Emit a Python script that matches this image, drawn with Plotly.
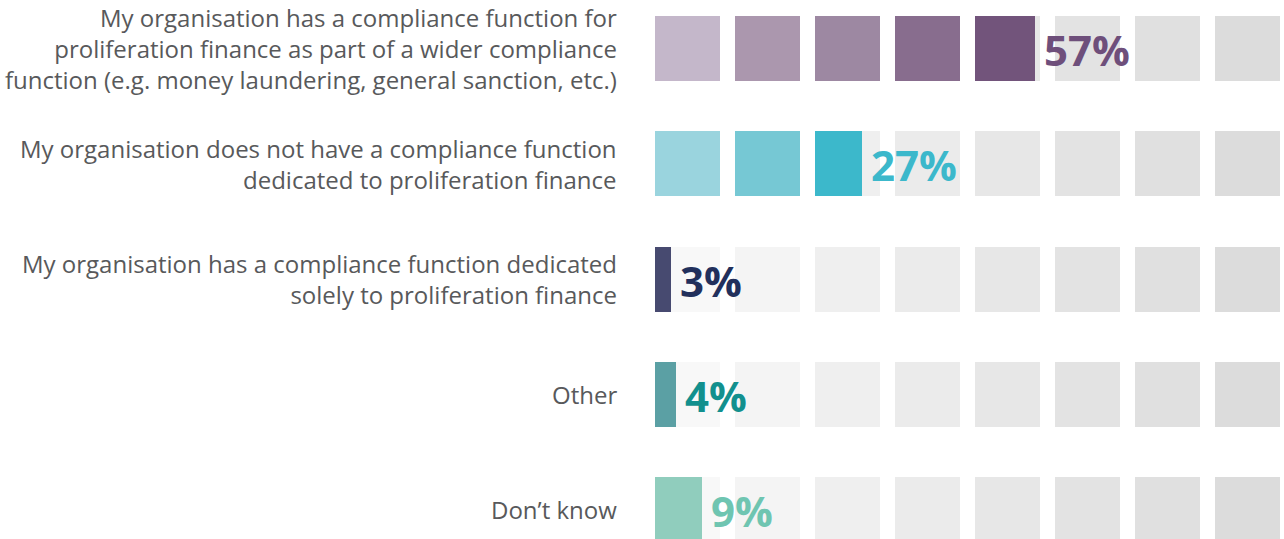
import plotly.graph_objects as go

# ---- data ----
categories = [
    "My organisation has a compliance function for<br>proliferation finance as part of a wider compliance<br>function (e.g. money laundering, general sanction, etc.)",
    "My organisation does not have a compliance function<br>dedicated to proliferation finance",
    "My organisation has a compliance function dedicated<br>solely to proliferation finance",
    "Other",
    "Don\u2019t know",
]
values = [57, 27, 3, 4, 9]                  # labelled shares (%)
fill_pct = [61.5, 34, 3, 4, 9]              # filled extent of the 8-block scale (% of 100)
n_blocks = 8
block_share = 100 / n_blocks

fill_colors = [
    ["#c4b7ca", "#ab97ae", "#9d88a2", "#886d8e", "#72547b"],
    ["#9ad4de", "#76c8d4", "#3cb8cb"],
    ["#474a70"],
    ["#5ba0a4"],
    ["#90cdbd"],
]
label_colors = ["#6e4f7b", "#3cb8cb", "#22305c", "#12908e", "#6fc5b1"]
bg_colors = ["#f8f8f8", "#f4f4f4", "#efefef", "#ebebeb", "#e7e7e7", "#e3e3e3", "#e0e0e0", "#dcdcdc"]

# ---- geometry (block units) ----
W, H = 1284, 539
pitch_px = 80
block_w = 65 / pitch_px
row_px = 115.25
bar_h = 65 / row_px

fig = go.Figure()

# background blocks
by, bb, bx, bc = [], [], [], []
for r in range(len(categories)):
    for k in range(n_blocks):
        by.append(r); bb.append(k); bx.append(block_w); bc.append(bg_colors[k])
fig.add_trace(go.Bar(y=by, x=bx, base=bb, orientation="h", width=bar_h,
                     marker=dict(color=bc, line=dict(width=0)), hoverinfo="skip", showlegend=False))

# filled blocks
fy, fb, fx, fc = [], [], [], []
label_x = []
for r, p in enumerate(fill_pct):
    nb = p / block_share
    end = 0
    for k in range(n_blocks):
        f = max(0.0, min(1.0, nb - k))
        if f <= 0:
            break
        fy.append(r); fb.append(k); fx.append(f * block_w)
        fc.append(fill_colors[r][min(k, len(fill_colors[r]) - 1)])
        end = k + f * block_w
    label_x.append(end)
fig.add_trace(go.Bar(y=fy, x=fx, base=fb, orientation="h", width=bar_h,
                     marker=dict(color=fc, line=dict(width=0)), hoverinfo="skip", showlegend=False))

left = 655
plot_w = n_blocks - 1 + block_w
plot_w_px = plot_w * pitch_px
top_c = 48.5

annotations = []
for r, (cat, v) in enumerate(zip(categories, values)):
    annotations.append(dict(
        xref="paper", yref="y", x=(619 - left) / plot_w_px, y=r, xanchor="right", yanchor="middle",
        text=cat, align="right", showarrow=False,
        font=dict(family="Open Sans", size=24, color="#58595b"),
    ))
    annotations.append(dict(
        xref="x", yref="y", x=label_x[r], y=r, xanchor="left", yanchor="middle", xshift=7, yshift=-1,
        text=f"<b>{v}%</b>", showarrow=False,
        font=dict(family="Open Sans", size=42, color=label_colors[r]),
    ))

fig.update_layout(
    width=W, height=H,
    margin=dict(l=left, r=W - left - plot_w_px, t=0, b=0, autoexpand=False),
    paper_bgcolor="white", plot_bgcolor="white",
    barmode="overlay", bargap=0,
    xaxis=dict(range=[0, plot_w], visible=False, fixedrange=True),
    yaxis=dict(range=[(H - top_c) / row_px, -top_c / row_px], visible=False, fixedrange=True),
    annotations=annotations,
)

fig.write_html("out.html", config={"displayModeBar": False},
               post_script="document.body.style.margin='0';")
